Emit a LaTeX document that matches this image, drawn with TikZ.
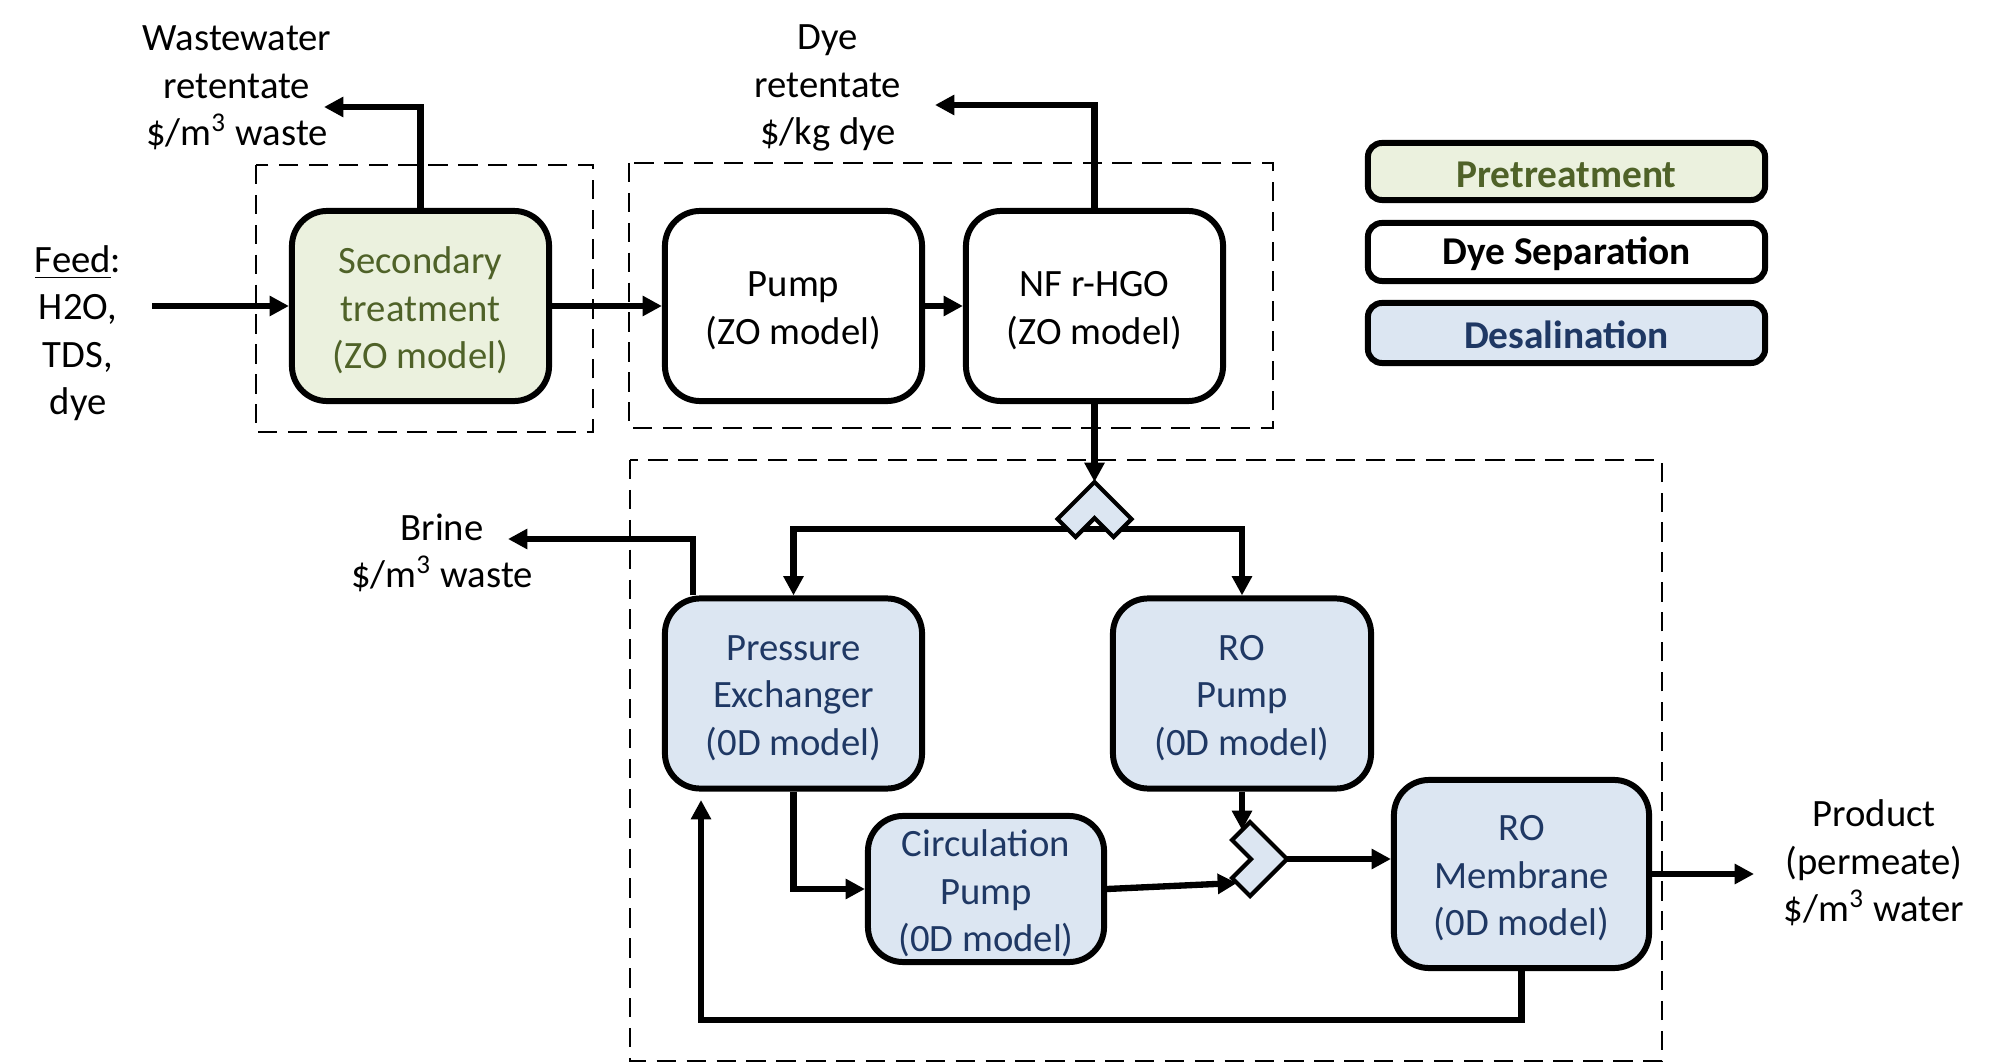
\documentclass[tikz,border=0pt]{standalone}
\usepackage{fontspec}
\setmainfont{Carlito}
\usetikzlibrary{arrows.meta,calc}
\definecolor{gfill}{HTML}{EBF1DE}
\definecolor{gtext}{HTML}{4F6228}
\definecolor{bfill}{HTML}{DCE6F2}
\definecolor{btext}{HTML}{1F3864}
\begin{document}
\begin{tikzpicture}[x=0.01cm,y=-0.01cm,
  font=\fontsize{11}{13.5}\selectfont,
  unitbox/.style={draw, line width=1.7pt, rounded corners=10pt, minimum width=2.57cm, minimum height=1.9cm, inner sep=0pt},
  secbox/.style={unitbox, fill=gfill, label={[lbl,text=gtext,yshift=-1.3pt]center:{#1}}},
  dyebox/.style={unitbox, fill=white, label={[lbl,yshift=-1.3pt]center:{#1}}},
  desbox/.style={unitbox, fill=bfill, label={[lbl,text=btext,yshift=-1.3pt]center:{#1}}},
  legbox/.style={draw, line width=1.7pt, rounded corners=4pt, minimum width=3.97cm, minimum height=0.58cm, inner sep=0pt, font=\fontsize{11.2}{13.5}\selectfont\bfseries, execute at begin node={\rule{0pt}{0.8em}}},
  lbl/.style={align=center, inner sep=0pt},
  arr/.style={line width=1.8pt, -{Triangle[length=5.5pt,width=5.5pt]}},
  grp/.style={line width=0.75pt, dash pattern=on 5.5pt off 3pt},
  mixshape/.style={draw, fill=bfill, line width=1.2pt, line join=miter}
]
\useasboundingbox (0,0) rectangle (2000,1064);

% group frames
\draw[grp] (256,165) rectangle (593,432);
\draw[grp] (629,163) rectangle (1273,428);
\draw[grp] (630,460) rectangle (1662,1061);

% unit nodes
\node[secbox={Secondary\\treatment\\(ZO model)}] (sec) at (420.5,306) {};
\node[dyebox={Pump\\(ZO model)}] (pump) at (793.5,306) {};
\node[dyebox={NF r-HGO\\(ZO model)}] (nf) at (1094.5,306) {};
\node[desbox={Pressure\\Exchanger\\(0D model)}] (px) at (793.5,693.5) {};
\node[desbox={RO\\Pump\\(0D model)}, minimum width=2.58cm] (rop) at (1242,693.5) {};
\node[desbox={Circulation\\Pump\\(0D model)}, minimum width=2.36cm, minimum height=1.46cm] (circ) at (986,889) {};
\node[desbox={RO\\Membrane\\(0D model)}, minimum width=2.55cm, minimum height=1.88cm] (rom) at (1521.5,874) {};

% legend
\node[legbox, fill=gfill, text=gtext, minimum height=0.57cm] (lp) at (1566.5,171.5) {Pretreatment};
\node[legbox, fill=white] (ld) at (1566.5,252) {Dye Separation};
\node[legbox, fill=bfill, text=btext, minimum height=0.60cm] (lde) at (1566.5,333) {Desalination};

% labels
\node[lbl] (feed) at (78,333) {\underline{Feed}:\\H2O,\\TDS,\\dye};
\node[lbl] (wwlbl) at (237,88) {Wastewater\\retentate\\\$/m\textsuperscript{3} waste};
\node[lbl] (dyelbl) at (828,88) {Dye\\retentate\\\$/kg dye};
\node[lbl] (brinelbl) at (442,553) {Brine\\\$/m\textsuperscript{3} waste};
\node[lbl] (prodlbl) at (1874,863) {Product\\(permeate)\\\$/m\textsuperscript{3} water};

% free ends
\coordinate (feedstart) at (152,306);
\coordinate (wwtip) at (324,107);
\coordinate (dyetip) at (935,105);
\coordinate (splA) at (1094.5,482);
\coordinate (splC) at (1094.5,529);
\coordinate (brinetip) at (508,539);
\coordinate (mixA) at (1287,859);
\coordinate (mixtop) at (1242,830);
\coordinate (mixin) at (1237,883);
\coordinate (prodtip) at (1754,874);
\coordinate (fbbot) at (701,1020);
\coordinate (fbtip) at (701,800);

% connectors
\draw[arr] (feedstart) -- (sec.west);
\draw[arr] (sec.north) |- (wwtip);
\draw[arr] (sec.east) -- (pump.west);
\draw[arr] (pump.east) -- (nf.west);
\draw[arr] (nf.north) |- (dyetip);
\draw[arr] (nf.south) -- (splA);
\draw[arr] (splC) -| (px.north);
\draw[arr] (splC) -| (rop.north);
\draw[arr] ($(px.north west)+(31,0)$) |- (brinetip);
\draw[arr] (px.south) |- (circ.west);
\draw[arr] (circ.east) -- (mixin);
\draw[arr] (rop.south) -- (mixtop);
\draw[arr] (mixA) -- (mixA -| rom.west);
\draw[arr] (rom.east) -- (prodtip);
\draw[arr] (rom.south) |- (fbbot) -- (fbtip);

% splitter and mixer
\draw[mixshape] (1094.5,482) -- (1131.5,519) -- (1113.5,537) -- (1094.5,518) -- (1075.5,537) -- (1057.5,519) -- cycle;
\draw[mixshape] (1287,859) -- (1250,822) -- (1232,840) -- (1251,859) -- (1232,878) -- (1250,896) -- cycle;
\end{tikzpicture}
\end{document}
